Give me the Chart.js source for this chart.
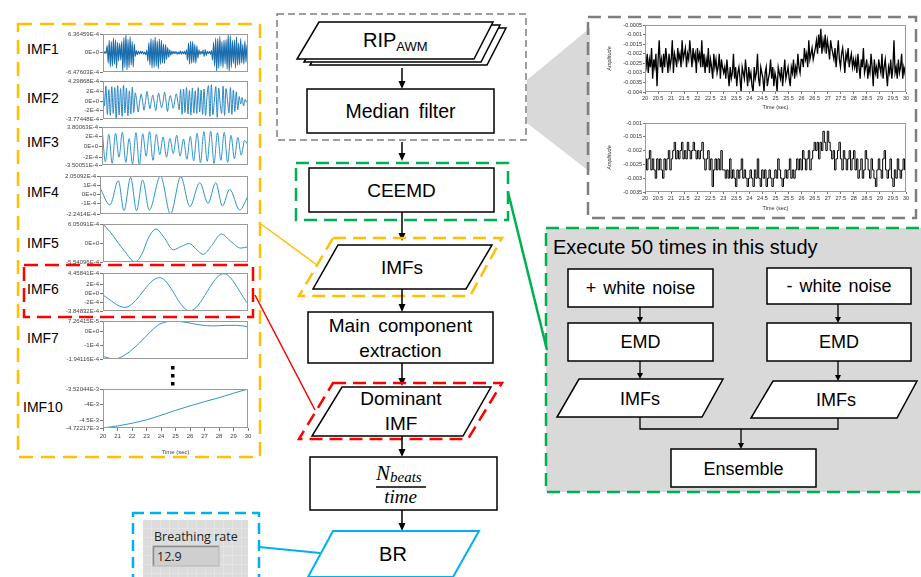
<!DOCTYPE html>
<html><head><meta charset="utf-8">
<script src="https://cdn.jsdelivr.net/npm/chart.js@4.4.1/dist/chart.umd.min.js"></script>
<style>
html,body{margin:0;padding:0;background:#fff;}
#wrap{position:relative;width:921px;height:577px;overflow:hidden;background:#fff;}
#wrap svg{position:absolute;left:0;top:0;}
#wrap canvas{position:absolute;}
</style></head><body><div id="wrap"></div>
<script>
// ===== DATA =====
const timeRange = [20, 30];
// IMF values (units of 1E-4, IMF10 in 1E-3)
const imf1 = [0.2,-0.3,0.4,-0.2,2.5,-3.5,4.2,-4.8,3.8,-4.5,5.0,-3.9,4.4,-5.2,3.6,-2.8,3.2,-2.5,3.9,
 -6.4,5.2,-4.9,6.3,-5.8,4.6,-5.0,5.5,-4.2,3.9,-4.8,3.0,
 -1.2,0.8,-0.6,0.5,-0.4,0.6,-0.3,0.4,-0.5,0.3,-0.6,0.9,
 -2.8,3.5,-4.2,4.8,-5.1,4.4,-4.9,5.3,-4.6,4.1,-5.4,4.7,-3.9,4.2,-3.5,
 3.0,-3.6,2.8,-2.2,1.8,-1.5,1.0,-0.8,0.6,
 -0.4,0.5,-0.3,0.4,-0.5,0.3,-0.4,0.6,-0.5,0.4,-0.3,0.5,-0.6,1.0,
 -2.5,3.4,-3.8,4.0,-3.6,3.9,-3.3,2.9,-3.5,2.4,-1.8,
 1.0,-0.6,0.5,-0.4,0.9,-1.2,1.1,-0.9,0.5,-0.3,0.4,-0.5,0.8,
 -2.5,3.6,-4.5,5.0,-6.4,4.8,-5.2,5.6,-4.4,3.9,-5.0,4.3,-3.8,4.6,-5.5,6.3,-6.4,5.8,-4.9,4.2,-3.6,4.4,-5.1,5.4,-4.2,3.3,-4.0,4.8,-3.5,2.9,-3.8,4.1,-3.2,2.6,-1.5];
const imf2 = [4.3,-1.0,3.2,-2.8,2.5,-3.0,3.1,-2.6,2.9,-3.77,3.3,-2.9,2.7,-3.2,3.4,-2.5,2.8,-3.1,2.2,-2.7,3.0,-2.4,
 1.8,0.1,-2.3,-0.2,1.5,0.0,-1.9,-0.1,2.1,0.2,-1.6,0.0,1.3,-0.2,-2.0,0.1,1.7,0.0,-1.4,-0.1,1.9,0.2,-2.2,0.0,1.2,-0.1,-1.5,0.1,1.6,0.0,-1.8,
 2.5,-2.8,2.6,-2.4,2.9,-2.7,2.3,-2.9,2.8,-2.5,2.2,-2.6,2.9,-2.3,2.4,-2.8,2.6,-3.0,
 1.0,3.3,-3.2,3.5,-2.9,0.0,3.1,-3.4,2.8,-0.5,-2.6,3.2,-3.0,2.7,0.2,-2.5,2.9,-2.8,2.4,-2.2,2.0,-1.8,
 1.0,-0.6,0.8,-1.0,0.4,-0.2,0.5];
const imf3 = [3.8,-2.9,2.4,-3.2,2.6,-2.0,2.8,-3.0,1.6,-3.3,2.7,-3.5,2.5,-1.8,2.9,-2.6,2.4,-1.5,1.9,-2.0,1.6,-1.3,
 2.2,-1.8,1.5,-2.4,2.0,-2.7,2.6,-3.1,2.9,-2.8,3.0,-3.2,2.7,-2.6,2.8,-3.0,2.2,-2.3,1.8,-1.6,1.2,0.4];
const imf4T = [20.0,20.67,21.24,21.62,22.07,22.47,22.88,23.33,24.09,24.76,25.46,26.07,26.74,27.3,27.82,28.27,28.76,29.44,30.0];
const imf4 = [0.73,-1.22,1.52,-1.86,1.9,-1.86,1.6,-1.79,2.05,-2.24,1.97,-1.41,1.3,-1.04,1.3,-1.34,0.54,-1.79,-0.21];
const imf5T = [20,20.5,21.0,21.5,22.2,22.7,23.1,23.66,24.2,24.85,25.4,25.95,26.4,26.9,27.5,28.17,28.8,29.5,30];
const imf5 = [6.0,3.6,0.6,-2.3,-5.5,-3.0,1.5,4.5,2.0,-1.8,-0.8,0.1,-1.5,-3.2,-0.5,3.0,0.8,-1.3,-0.9];
const imf6T = [20,21.5,23.9,25.98,28.32,30];
const imf6 = [-0.38,-3.06,3.45,-3.85,4.3,-2.3];
const imf7T = [20,20.8,21.6,22.5,23.3,23.9,24.9,25.8,26.7,27.6,28.5,29.2,30];
const imf7 = [-1.76,-1.94,-1.6,-0.83,0.0,0.5,0.72,0.62,0.45,0.38,0.42,0.42,0.33];
const imf10T = [20,21,22,23,24,25,26,27,28,29,30];
const imf10 = [-4.722,-4.66,-4.575,-4.47,-4.33,-4.18,-4.04,-3.91,-3.79,-3.65,-3.52];
// IMF tick values and labels (ascending)
const imf1Ticks = [-6.47603,0,6.36459], imf1Labels = ['-6.47603E-4','0E+0','6.36459E-4'];
const imf2Ticks = [-3.77448,-2,0,2,4.29868], imf2Labels = ['-3.77448E-4','-2E-4','0E+0','2E-4','4.29868E-4'];
const imf3Ticks = [-3.50051,-2,0,2,3.80063], imf3Labels = ['-3.50051E-4','-2E-4','0E+0','2E-4','3.80063E-4'];
const imf4Ticks = [-2.2414,-1,0,1,2.05092], imf4Labels = ['-2.2414E-4','-1E-4','0E+0','1E-4','2.05092E-4'];
const imf5Ticks = [-5.54096,0,6.05091], imf5Labels = ['-5.54096E-4','0E+0','6.05091E-4'];
const imf6Ticks = [-3.84832,-2,0,2,4.45841], imf6Labels = ['-3.84832E-4','-2E-4','0E+0','2E-4','4.45841E-4'];
const imf7Ticks = [-1.94116,-1,0,0.726415], imf7Labels = ['-1.94116E-4','-1E-4','0E+0','7.26415E-5'];
const imf10Ticks = [-4.72217,-4.5,-4,-3.52044], imf10Labels = ['-4.72217E-3','-4.5E-3','-4E-3','-3.52044E-3'];
const imfNames = ['IMF1','IMF2','IMF3','IMF4','IMF5','IMF6','IMF7','IMF10'];
// RIP signals (units of 1E-4)
const ripRaw = [-24,-27,-20,-30,-23,-27,-17,-33,-23,-27,-20,-37,-23,-13,-27,-23,-30,-20,-27,-17,-23,-30,-20,-27,-23,-13,-30,-20,-23,-27,-17,-23,-20,-27,-13,-23,-20,-17,-27,-20,-23,-13,-20,-27,-17,-23,-20,-30,-17,-23,-20,-27,-13,
 -27,-20,-30,-23,-27,-17,-30,-23,-27,-33,-20,-27,-23,-30,-27,-20,-33,-23,-27,
 -30,-27,-33,-23,-30,-37,-27,-33,-30,-20,-33,-27,-37,-30,-27,-33,-40,-27,-30,-33,-23,-30,-37,-27,-33,-30,-37,-40,-27,-33,-30,-20,-33,-37,-27,-30,-33,-40,-30,-27,-37,-33,-30,-23,-33,-27,-37,-30,-33,-40,-27,-30,-33,-27,-37,-30,-23,-33,-30,-27,-33,-37,-27,-30,-23,-33,-27,-30,-20,-27,-30,-23,
 -23,-27,-17,-23,-20,-27,-13,-23,-20,-17,-23,-20,
 -17,-13,-20,-10,-17,-7,-20,-13,-17,-10,-20,-13,-17,-23,-13,-17,-20,
 -23,-17,-27,-20,-13,-23,-27,-20,-17,-23,-30,-20,-23,-17,-27,-23,-20,-27,-23,
 -27,-23,-30,-20,-27,-33,-23,-27,-17,-30,-27,-23,-33,-27,-30,-20,-27,-37,-23,-30,-27,-33,-23,-27,-30,-20,-33,-27,-23,-30,-37,-27,-30,-23,-33,-27,-13,-30,-27,-33,-23,-30,-27,-20,-33,-27,-30,-25];
const ripFiltered = [-23,-27,-23,-20,-27,-23,-27,-30,-23,-27,-23,-27,-30,-23,-27,-23,-20,-27,
 -23,-20,-17,-23,-20,-23,-20,-17,-23,-20,-23,-17,-20,-23,-20,-17,-20,-23,-20,-23,-20,-17,
 -23,-27,-23,-20,-27,-23,-33,-27,-23,-27,-23,-27,-20,-27,
 -27,-30,-27,-30,-23,-30,-27,-30,-33,-27,-30,-27,-23,-30,-27,-30,-33,-30,-27,-30,-33,-27,-30,-23,-30,-33,-27,-30,-27,-33,-30,-27,-30,-33,-30,-27,-30,-23,-27,-30,-33,-30,-27,-30,-27,-23,-30,-27,-30,-27,
 -23,-27,-23,-27,-20,-23,-27,-23,-20,-27,-23,
 -20,-17,-20,-17,-23,-17,-20,-13,-17,-20,-13,-17,-20,
 -23,-20,-27,-23,-20,-17,-23,-27,-20,-23,-27,-23,-20,-27,-23,-20,
 -27,-23,-30,-27,-23,-30,-27,-20,-23,-27,-30,-23,-27,-30,-33,-27,-23,-27,-30,-23,-20,-27,-30,-27,-23,-30,-33,-27,-30,-23,-27,-30,-27,-23,-27,-27];
const ripRawTicks = [-40,-35,-30,-25,-20,-15,-10,-5];
const ripRawLabels = ['-0.004','-0.0035','-0.003','-0.0025','-0.002','-0.0015','-0.001','-0.0005'];
const ripFiltTicks = [-35,-30,-25,-20,-15,-10];
const ripFiltLabels = ['-0.0035','-0.003','-0.0025','-0.002','-0.0015','-0.001'];
const breathingRate = '12.9';

// ===== SVG DIAGRAM =====
const wrap = document.getElementById('wrap');
const SANS = '"Liberation Sans", Arial, sans-serif';
const C = {yel:'#FFC000', red:'#FF0000', grn:'#00B050', blu:'#00B0F0', gry:'#7F7F7F'};
function rect(x,y,w,h,st,sw,dash,fill){return `<rect x="${x}" y="${y}" width="${w}" height="${h}" stroke="${st}" stroke-width="${sw}" ${dash?`stroke-dasharray="${dash}"`:''} fill="${fill}"/>`;}
function poly(p,st,sw,dash,fill){return `<polygon points="${p.map(q=>q.join(',')).join(' ')}" stroke="${st}" stroke-width="${sw}" ${dash?`stroke-dasharray="${dash}"`:''} fill="${fill}" stroke-linejoin="miter"/>`;}
function line(x1,y1,x2,y2,st,sw){return `<line x1="${x1}" y1="${y1}" x2="${x2}" y2="${y2}" stroke="${st}" stroke-width="${sw}"/>`;}
function arrow(x,y1,y2,hw,hh,sw){return line(x,y1,x,y2-hh+1,'#000',sw)+poly([[x-hw,y2-hh],[x+hw,y2-hh],[x,y2]],'none',0,null,'#000');}
function txt(x,y,s,size,anchor,extra){return `<text x="${x}" y="${y}" font-size="${size}" text-anchor="${anchor||'middle'}" font-family='${SANS}' fill="#000" ${extra||''}>${s}</text>`;}
let s = `<svg width="921" height="577" xmlns="http://www.w3.org/2000/svg">
<defs><pattern id="lvgrid" width="9" height="9" patternUnits="userSpaceOnUse" x="143" y="520"><rect width="9" height="9" fill="#dcdcdc"/><path d="M9 0V9H0" fill="none" stroke="#ececec" stroke-width="1"/></pattern></defs>`;
// gray zoom trapezoid
s += poly([[527,80],[590,28],[590,172],[527,123]],'none',0,null,'#d9d9d9');
// right CEEMD panel
s += rect(546,228,385,264,C.grn,2.5,'13,7','#d9d9d9');
// gray dashed boxes
s += rect(277,14,249,126,C.gry,1.5,'7,4','none');
s += rect(588,17,328,201,C.gry,2.5,'13,7','none');
// left yellow box, red box
s += rect(18,24,242,433,C.yel,2.5,'14,8','none');
s += rect(24,265,229,52,C.red,2.5,'14,7','none');
// connector lines
s += line(261,224,317,265,C.yel,1.5);
s += line(255,295,315,410,C.red,1.5);
s += line(508,192,547,350,C.grn,2.5);
// blue box + line
s += rect(133,513,126,80,C.blu,2.5,'11,6','none');
s += line(259,547,320,553,C.blu,2);
// RIP stack
const ripFront = [[319,22],[493,22],[474,59],[297,59]];
[[13,6],[7,3],[0,0]].forEach(o=>{ s += poly(ripFront.map(p=>[p[0]+o[0],p[1]+o[1]]),'#000',1.5,null,'#fff'); });
s += `<text x="363" y="47" font-family='${SANS}' fill="#000"><tspan font-size="20">RIP</tspan><tspan font-size="13" dy="4">AWM</tspan></text>`;
// main flow
s += arrow(402,68,89,3.5,8,1.5);
s += rect(307,89,187,44,'#000',1.5,null,'#fff') + txt(400.5,118,'Median filter',19.5,'middle','word-spacing="4"');
s += arrow(402,142,161,3.5,8,1.5);
s += rect(296,163,212,57,C.grn,2.5,'13,7','none');
s += rect(309,168,185,44,'#000',1.5,null,'#fff') + txt(401.5,197,'CEEMD',19);
s += arrow(402,212,241,3.5,8,1.5);
s += poly([[333,238],[502,238],[470,296],[299,296]],C.yel,2.5,'13,7','none');
s += poly([[338,245],[492,245],[466,289],[313,289]],'#000',1.5,null,'#fff') + txt(402,274,'IMFs',19);
s += arrow(402,289,312,3.5,8,1.5);
s += rect(308,312,185,51,'#000',1.5,null,'#fff') + txt(400.5,332,'Main component',19,'middle','word-spacing="3"') + txt(400.5,357,'extraction',19);
s += arrow(402,363,386,3.5,8,1.5);
s += poly([[333,383],[502,383],[468,439],[299,439]],C.red,2.5,'13,7','none');
s += poly([[342,387],[491,387],[463,436],[312,436]],'#000',1.5,null,'#fff') + txt(401,405,'Dominant',19) + txt(401,430,'IMF',19);
s += arrow(402,436,457,3.5,8,1.5);
s += rect(310,457,187,53,'#000',1.5,null,'#fff');
s += `<text x="376" y="480" font-family='"Liberation Serif", serif' font-style="italic" fill="#000"><tspan font-size="21">N</tspan><tspan font-size="15" dy="2">beats</tspan></text>`;
s += line(376,487,426,487,'#000',1.3);
s += `<text x="400.5" y="503" text-anchor="middle" font-family='"Liberation Serif", serif' font-style="italic" font-size="19" fill="#000">time</text>`;
s += arrow(402,510,531,3.5,8,1.5);
s += poly([[333,531],[479,531],[453,577],[308,577]],C.blu,2,null,'#fff') + txt(393,561,'BR',20);
// LabVIEW indicator
s += `<rect x="143" y="520" width="105" height="60" fill="url(#lvgrid)"/>`;
s += `<text x="154" y="541" font-size="12.5" font-family='"Open Sans", sans-serif' fill="#222">Breathing rate</text>`;
s += `<rect x="153" y="546" width="66" height="20" fill="#cfcfcf" stroke="#b5b5b5" stroke-width="1"/>`;
s += line(153.5,546.5,218.5,546.5,'#8f8f8f',1.5) + line(153.5,546.5,153.5,565.5,'#8f8f8f',1.5);
s += `<text x="157" y="561" font-size="12.5" font-family='"Open Sans", sans-serif' fill="#222">${breathingRate}</text>`;
// CEEMD panel content
s += txt(553,254,'Execute 50 times in this study',20,'start');
s += rect(568,269,145,38,'#000',1.5,null,'#fff') + txt(640.5,294,'+ white noise',18,'middle','word-spacing="2"');
s += rect(767,268,144,36,'#000',1.5,null,'#fff') + txt(839,292,'- white noise',18,'middle','word-spacing="2"');
s += arrow(640,307,323,3,6,1.3) + arrow(838,304,323,3,6,1.3);
s += rect(568,323,145,38,'#000',1.5,null,'#fff') + txt(640.5,348,'EMD',18);
s += rect(767,323,144,38,'#000',1.5,null,'#fff') + txt(839,348,'EMD',18);
s += arrow(640,361,379,3,6,1.3) + arrow(838,361,381,3,6,1.3);
s += poly([[579,379],[723,379],[702,417],[557,417]],'#000',1.5,null,'#fff') + txt(640,405,'IMFs',18);
s += poly([[773,381],[917,381],[897,418],[751,418]],'#000',1.5,null,'#fff') + txt(836,406,'IMFs',18);
s += `<polyline points="640,417 640,429 838,429 838,418" fill="none" stroke="#000" stroke-width="1.3"/>`;
s += arrow(741,429,449,3,6,1.3);
s += rect(671,449,145,38,'#000',1.5,null,'#fff') + txt(743.5,475,'Ensemble',18);
// IMF labels and ellipsis
const imfLabelPos = [[27,54],[27,103],[27,147],[27,197],[27,248],[27,294],[27,343],[23,412]];
imfNames.forEach((n,i)=>{ s += txt(imfLabelPos[i][0],imfLabelPos[i][1],n,14,'start'); });
[366,374,382].forEach(y=>{ s += `<rect x="171" y="${y}" width="3.5" height="3.5" fill="#000"/>`; });
s += '</svg>';
wrap.insertAdjacentHTML('beforeend', s);

// ===== CHARTS =====
function uniformTimes(n){const a=[];for(let i=0;i<n;i++)a.push(timeRange[0]+(timeRange[1]-timeRange[0])*i/(n-1));return a;}
function pts(t,v){return v.map((y,i)=>({x:t[i],y:y}));}
const frame = {id:'frame', afterDatasetsDraw(c){const a=c.chartArea,ctx=c.ctx;ctx.save();ctx.strokeStyle='#9a9a9a';ctx.lineWidth=1;
  ctx.strokeRect(Math.round(a.left)+0.5,Math.round(a.top)+0.5,Math.round(a.right-a.left)-1,Math.round(a.bottom-a.top)-1);ctx.restore();}};
const TICKFONT = {family:'"Liberation Sans", Arial, sans-serif', size:6};

function makeCanvas(left,top,w,h){const cv=document.createElement('canvas');cv.width=w;cv.height=h;cv.style.left=left+'px';cv.style.top=top+'px';cv.style.width=w+'px';cv.style.height=h+'px';wrap.appendChild(cv);return cv;}

function imfChart(o){
  const cl=48, padT=6, padR=6, padB=6, axH=o.xAxis?28:0;
  const W=248-cl+padR, H=padT+(o.bottom-o.top)+(o.xAxis?axH:padB);
  const cv=makeCanvas(cl,o.top-padT,W,H);
  new Chart(cv,{type:'line',
    data:{datasets:[{data:pts(o.t,o.v),borderColor:o.color||'#2f93d0',borderWidth:o.bw||1,pointRadius:0,cubicInterpolationMode:'monotone',fill:false}]},
    options:{responsive:false,animation:false,devicePixelRatio:1,events:[],
      layout:{padding:{top:padT,right:padR,bottom:o.xAxis?0:padB,left:0}},
      plugins:{legend:{display:false},tooltip:{enabled:false}},
      scales:{
        x:{type:'linear',min:20,max:30,display:!!o.xAxis,afterFit:sc=>{sc.height=axH;},
          ticks:{stepSize:1,autoSkip:false,maxRotation:0,minRotation:0,font:TICKFONT,color:'#444',padding:2,callback:v=>String(v)},
          grid:{drawOnChartArea:false,tickLength:3,color:'#777'},border:{display:false},
          title:{display:true,text:'Time (sec)',font:TICKFONT,color:'#444',padding:{top:1,bottom:0}}},
        y:{min:o.ticks[0],max:o.ticks[o.ticks.length-1],afterFit:sc=>{sc.width=o.left-cl;},
          afterBuildTicks:sc=>{sc.ticks=o.ticks.map(v=>({value:v}));},
          ticks:{autoSkip:false,font:TICKFONT,color:'#444',padding:1,callback:(v,i)=>o.labels[i]},
          grid:{drawOnChartArea:false,tickLength:3,color:'#777'},border:{display:false}}
      }},
    plugins:[frame]});
}
imfChart({left:103,top:34,bottom:72,t:uniformTimes(imf1.length),v:imf1,ticks:imf1Ticks,labels:imf1Labels,color:'#1a6eae',bw:1.1});
imfChart({left:103,top:81,bottom:119,t:uniformTimes(imf2.length),v:imf2,ticks:imf2Ticks,labels:imf2Labels,color:'#2484c4'});
imfChart({left:102,top:127,bottom:165,t:uniformTimes(imf3.length),v:imf3,ticks:imf3Ticks,labels:imf3Labels});
imfChart({left:100,top:176,bottom:214,t:imf4T,v:imf4,ticks:imf4Ticks,labels:imf4Labels});
imfChart({left:103,top:224,bottom:262,t:imf5T,v:imf5,ticks:imf5Ticks,labels:imf5Labels});
imfChart({left:103,top:273,bottom:311,t:imf6T,v:imf6,ticks:imf6Ticks,labels:imf6Labels});
imfChart({left:103,top:321,bottom:359,t:imf7T,v:imf7,ticks:imf7Ticks,labels:imf7Labels});
imfChart({left:103,top:389,bottom:428,t:imf10T,v:imf10,ticks:imf10Ticks,labels:imf10Labels,xAxis:true});

function ripChart(o){
  const cl=606, padT=6, padR=6, axH=o.axH;
  const W=906-cl+padR, H=padT+(o.bottom-o.top)+axH;
  const cv=makeCanvas(cl,o.top-padT,W,H);
  const F={family:'"Liberation Sans", Arial, sans-serif', size:5.5};
  new Chart(cv,{type:'line',
    data:{datasets:[{data:pts(uniformTimes(o.v.length),o.v),borderColor:'#000',borderWidth:o.bw,pointRadius:0,stepped:o.stepped,fill:false}]},
    options:{responsive:false,animation:false,devicePixelRatio:1,events:[],
      layout:{padding:{top:padT,right:padR,bottom:0,left:0}},
      plugins:{legend:{display:false},tooltip:{enabled:false}},
      scales:{
        x:{type:'linear',min:20,max:30,afterFit:sc=>{sc.height=axH;},
          ticks:{stepSize:0.5,autoSkip:false,maxRotation:0,minRotation:0,font:F,color:'#333',padding:1,callback:v=>String(Math.round(v*10)/10)},
          grid:{drawOnChartArea:false,tickLength:2,color:'#777'},border:{display:false},
          title:{display:true,text:'Time (sec)',font:F,color:'#333',padding:{top:1,bottom:0}}},
        y:{min:o.ticks[0],max:o.ticks[o.ticks.length-1],afterFit:sc=>{sc.width=645-cl;},
          afterBuildTicks:sc=>{sc.ticks=o.ticks.map(v=>({value:v}));},
          ticks:{autoSkip:false,font:F,color:'#333',padding:1,callback:(v,i)=>o.labels[i]},
          grid:{drawOnChartArea:false,tickLength:2,color:'#777'},border:{display:false},
          title:{display:true,text:'Amplitude',font:{family:F.family,size:5.5,style:'italic'},color:'#333',padding:0}}
      }},
    plugins:[frame]});
}
ripChart({top:25,bottom:92,v:ripRaw,ticks:ripRawTicks,labels:ripRawLabels,axH:19,stepped:false,bw:1.3});
ripChart({top:123,bottom:192,v:ripFiltered,ticks:ripFiltTicks,labels:ripFiltLabels,axH:20,stepped:true,bw:1});
</script>
</body></html>
